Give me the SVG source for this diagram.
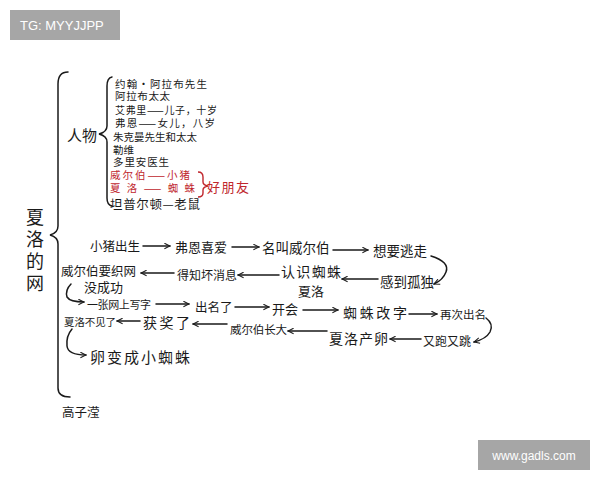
<svg xmlns="http://www.w3.org/2000/svg" width="600" height="480" viewBox="0 0 600 480">
<style>
text{font-family:"Noto Sans CJK SC","Noto Sans",sans-serif;fill:#1a1a1a}
.l{font-size:10.5px}
.r{fill:#c0262d}
.ln{fill:none;stroke:#1a1a1a;stroke-width:1.5;stroke-linecap:round}
.rb{fill:none;stroke:#c0262d;stroke-width:1.4}
.wm{fill:#a6a6a6}
.wt{fill:#ffffff;font-family:"Liberation Sans",Arial,sans-serif;font-size:13px}
</style>
<defs>
<marker id="a" viewBox="0 0 10 10" refX="9" refY="5" markerWidth="7" markerHeight="7" orient="auto" markerUnits="userSpaceOnUse">
<path d="M1,1 L9,5 L1,9" fill="none" stroke="#1a1a1a" stroke-width="1.5"/>
</marker>
</defs>
<rect width="600" height="480" fill="#ffffff"/>
<g id="watermark-top"><rect class="wm" x="10" y="10" width="110" height="30"/><text class="wt" x="20" y="30">TG: MYYJJPP</text></g>
<g id="watermark-bottom"><rect class="wm" x="478" y="440" width="112" height="30"/><text class="wt" x="534" y="460" text-anchor="middle" style="font-size:12px">www.gadls.com</text></g>
<g id="title">
<text x="35" y="224" text-anchor="middle" style="font-size:18px">夏</text>
<text x="35" y="246" text-anchor="middle" style="font-size:18px">洛</text>
<text x="35" y="268" text-anchor="middle" style="font-size:18px">的</text>
<text x="35" y="290" text-anchor="middle" style="font-size:18px">网</text>
</g>
<g id="braces">
<path class="ln" d="M68,72 Q58,72 58,84 L58,226 Q58,233 50,235 Q58,237 58,244 L58,388 Q58,397 70,397"/>
<path class="ln" d="M112,77 Q107,78 107,86 L107,126 Q107,132 99,134 Q107,136 107,142 L107,198 Q107,205 112,206"/>
<path class="rb" d="M198,172 Q203,172 203,177 L203,182 Q203,185 208,186 Q203,187 203,190 L203,193 Q203,197 198,197"/>
</g>
<g id="characters">
<text x="67" y="141" style="font-size:15px">人物</text>
<text class="l" x="115" y="88" textLength="92">约翰·阿拉布先生</text>
<text class="l" x="115" y="100" textLength="55">阿拉布太太</text>
<text class="l" x="115" y="114" style="font-size:10px" textLength="102">艾弗里——儿子，十岁</text>
<text class="l" x="115" y="127" textLength="100">弗恩——女儿，八岁</text>
<text class="l" x="113" y="141" textLength="84">朱克曼先生和太太</text>
<text class="l" x="113" y="154">勒维</text>
<text class="l" x="113" y="166" textLength="56">多里安医生</text>
<text class="l r" x="110" y="179" textLength="80">威尔伯——小猪</text>
<text class="l r" x="110" y="192" textLength="85">夏洛——蜘蛛</text>
<text class="r" x="207" y="192" style="font-size:13px" textLength="42">好朋友</text>
<text x="110" y="209" style="font-size:12.5px" textLength="90">坦普尔顿—老鼠</text>
</g>
<g id="connectors">
<line class="ln" x1="143" y1="246" x2="170" y2="246" marker-end="url(#a)"/>
<line class="ln" x1="232" y1="247" x2="259" y2="247" marker-end="url(#a)"/>
<line class="ln" x1="333" y1="250" x2="368" y2="250" marker-end="url(#a)"/>
<path class="ln" d="M431,256 Q450,262 446,272 Q443,280 434,284" marker-end="url(#a)"/>
<line class="ln" x1="378" y1="279" x2="342" y2="279" marker-end="url(#a)"/>
<line class="ln" x1="279" y1="275" x2="238" y2="275" marker-end="url(#a)"/>
<line class="ln" x1="174" y1="273" x2="141" y2="273" marker-end="url(#a)"/>
<path class="ln" d="M71,284 Q65,290 67,297 Q70,302 84,302" marker-end="url(#a)"/>
<line class="ln" x1="156" y1="304" x2="189" y2="304" marker-end="url(#a)"/>
<line class="ln" x1="235" y1="307" x2="269" y2="307" marker-end="url(#a)"/>
<line class="ln" x1="303" y1="310" x2="338" y2="310" marker-end="url(#a)"/>
<line class="ln" x1="409" y1="314" x2="437" y2="314" marker-end="url(#a)"/>
<path class="ln" d="M486,318 Q494,324 490,332 Q486,339 474,342" marker-end="url(#a)"/>
<line class="ln" x1="421" y1="339" x2="390" y2="339" marker-end="url(#a)"/>
<line class="ln" x1="327" y1="331" x2="288" y2="331" marker-end="url(#a)"/>
<line class="ln" x1="227" y1="324" x2="193" y2="324" marker-end="url(#a)"/>
<line class="ln" x1="140" y1="321" x2="117" y2="321" marker-end="url(#a)"/>
<path class="ln" d="M72,329 Q66,336 67,346 Q68,355 86,355" marker-end="url(#a)"/>
</g>
<g id="n-xiaozhu"><text x="90" y="251" style="font-size:12.5px">小猪出生</text></g>
<g id="n-feien"><text x="175" y="252" style="font-size:13px">弗恩喜爱</text></g>
<g id="n-mingjiao"><text x="262" y="253" style="font-size:13.5px">名叫威尔伯</text></g>
<g id="n-taozou"><text x="373" y="256" style="font-size:13.5px">想要逃走</text></g>
<g id="n-gudu"><text x="380" y="287" style="font-size:13.5px">感到孤独</text></g>
<g id="n-renshi"><text x="281" y="277" style="font-size:14px" textLength="60">认识蜘蛛</text><text x="298" y="296" style="font-size:13px">夏洛</text></g>
<g id="n-dezhi"><text x="177" y="280" style="font-size:12px">得知坏消息</text></g>
<g id="n-zhiwang"><text x="61" y="276" style="font-size:12.5px">威尔伯要织网</text><text x="84" y="292" style="font-size:13px">没成功</text></g>
<g id="n-xiezi"><text x="87" y="309" style="font-size:11px" textLength="64">一张网上写字</text></g>
<g id="n-chuming"><text x="195" y="312" style="font-size:12.5px">出名了</text></g>
<g id="n-kaihui"><text x="272" y="314" style="font-size:13px">开会</text></g>
<g id="n-gaizi"><text x="343" y="318" style="font-size:14px" textLength="64">蜘蛛改字</text></g>
<g id="n-zaici"><text x="440" y="319" style="font-size:11.5px">再次出名</text></g>
<g id="n-paotiao"><text x="423" y="346" style="font-size:12px">又跑又跳</text></g>
<g id="n-chanluan"><text x="329" y="344" style="font-size:14px" textLength="59">夏洛产卵</text></g>
<g id="n-zhangda"><text x="230" y="334" style="font-size:11.5px" textLength="57">威尔伯长大</text></g>
<g id="n-huojiang"><text x="143" y="328" style="font-size:14px" textLength="47">获奖了</text></g>
<g id="n-bujian"><text x="64" y="326" style="font-size:10.5px" textLength="52">夏洛不见了</text></g>
<g id="n-xiaozhizhu"><text x="90" y="363" style="font-size:15px" textLength="100">卵变成小蜘蛛</text></g>
<g id="author"><text x="62" y="417" style="font-size:12.5px">高子滢</text></g>
</svg>
